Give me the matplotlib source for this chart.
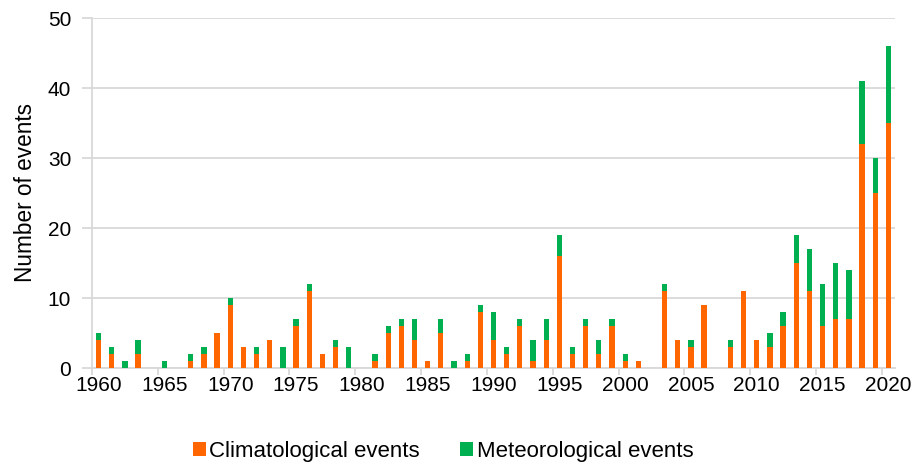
import matplotlib
matplotlib.use("Agg")
import matplotlib.pyplot as plt
import numpy as np

plt.rcParams['font.family'] = ['Liberation Sans', 'DejaVu Sans']

years = list(range(1960, 2021))
climatological = [4, 2, 0, 2, 0, 0, 0, 1, 2, 5,
                  9, 3, 2, 4, 0, 6, 11, 2, 3, 0,
                  0, 1, 5, 6, 4, 1, 5, 0, 1, 8,
                  4, 2, 6, 1, 4, 16, 2, 6, 2, 6,
                  1, 1, 0, 11, 4, 3, 9, 0, 3, 11,
                  4, 3, 6, 15, 11, 6, 7, 7, 32, 25,
                  35]
meteorological = [1, 1, 1, 2, 0, 1, 0, 1, 1, 0,
                  1, 0, 1, 0, 3, 1, 1, 0, 1, 3,
                  0, 1, 1, 1, 3, 0, 2, 1, 1, 1,
                  4, 1, 1, 3, 3, 3, 1, 1, 2, 1,
                  1, 0, 0, 1, 0, 1, 0, 0, 1, 0,
                  0, 2, 2, 4, 6, 6, 8, 7, 9, 5,
                  11]
series_names = ["Climatological events", "Meteorological events"]
colors = ["#FF6600", "#00B050"]
yticks = [0, 10, 20, 30, 40, 50]

fig = plt.figure(figsize=(9.13, 4.66), dpi=100)
ax = fig.add_axes([92/913, 1-368/466, (895-92)/913, (368-18)/466])

x = np.arange(len(years))
clim = np.array(climatological)
met = np.array(meteorological)
ax.bar(x, clim, width=0.4, color=colors[0], label=series_names[0], zorder=3)
ax.bar(x, met, width=0.4, bottom=clim, color=colors[1], label=series_names[1], zorder=3)

ax.set_xlim(-0.5, len(years) - 0.5)
ax.set_ylim(0, 50)
ax.set_yticks(yticks)
ax.set_yticklabels([str(v) for v in yticks], fontsize=15)
ax.yaxis.grid(True, color="#d9d9d9", linewidth=1.3, zorder=0)
ax.tick_params(axis='y', length=7, color="#d9d9d9", width=1.3, pad=8)

label_idx = [i for i, y in enumerate(years) if y % 5 == 0]
ax.set_xticks(label_idx)
ax.set_xticklabels([str(years[i]) for i in label_idx], fontsize=15)
ax.tick_params(axis='x', length=0, pad=6)
ax.set_xticks([i - 0.5 for i in label_idx], minor=True)
ax.tick_params(axis='x', which='minor', length=5, color="#d9d9d9", width=1.3)

for s in ['top', 'right']:
    ax.spines[s].set_visible(False)
for s in ['left', 'bottom']:
    ax.spines[s].set_color("#d9d9d9")
    ax.spines[s].set_linewidth(1.3)

ax.set_ylabel("Number of events", fontsize=16.3, labelpad=8)

handles, labels = ax.get_legend_handles_labels()
fig.legend(handles, labels, loc='center', bbox_to_anchor=(443/913, 1-451/466),
           ncol=2, frameon=False, fontsize=16, handlelength=0.6, handleheight=0.6,
           handletextpad=0.15, columnspacing=1.8)

fig.savefig("out.png", dpi=100)
